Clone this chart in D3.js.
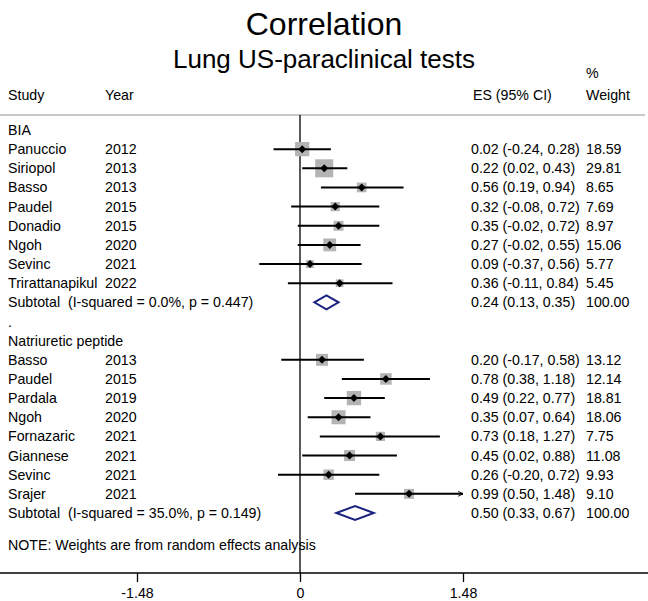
<!DOCTYPE html>
<html>
<head>
  <meta charset="utf-8">
  <title>Correlation - Lung US-paraclinical tests</title>
  <script src="https://d3js.org/d3.v7.min.js"></script>
  <style>
    body { margin: 0; background: #fff; }
    svg text { font-family: "Liberation Sans", Arial, Helvetica, sans-serif; fill: #000; }
  </style>
</head>
<body>
  <div id="chart"></div>
  <script>
// BIA group
const biaStudies = ["Panuccio", "Siriopol", "Basso", "Paudel", "Donadio", "Ngoh", "Sevinc", "Trirattanapikul"];
const biaYears = [2012, 2013, 2013, 2015, 2015, 2020, 2021, 2022];
const biaES = [0.02, 0.22, 0.56, 0.32, 0.35, 0.27, 0.09, 0.36];
const biaLo = [-0.24, 0.02, 0.19, -0.08, -0.02, -0.02, -0.37, -0.11];
const biaHi = [0.28, 0.43, 0.94, 0.72, 0.72, 0.55, 0.56, 0.84];
const biaWeight = [18.59, 29.81, 8.65, 7.69, 8.97, 15.06, 5.77, 5.45];
const biaSubtotal = { es: 0.24, lo: 0.13, hi: 0.35, het: "I-squared = 0.0%, p = 0.447" };

// Natriuretic peptide group
const npStudies = ["Basso", "Paudel", "Pardala", "Ngoh", "Fornazaric", "Giannese", "Sevinc", "Srajer"];
const npYears = [2013, 2015, 2019, 2020, 2021, 2021, 2021, 2021];
const npES = [0.20, 0.78, 0.49, 0.35, 0.73, 0.45, 0.26, 0.99];
const npLo = [-0.17, 0.38, 0.22, 0.07, 0.18, 0.02, -0.20, 0.50];
const npHi = [0.58, 1.18, 0.77, 0.64, 1.27, 0.88, 0.72, 1.48];
const npWeight = [13.12, 12.14, 18.81, 18.06, 7.75, 11.08, 9.93, 9.10];
const npSubtotal = { es: 0.50, lo: 0.33, hi: 0.67, het: "I-squared = 35.0%, p = 0.149" };

const xTicks = [-1.48, 0, 1.48];

const width = 648, height = 601;
const svg = d3.select("#chart").append("svg")
  .attr("width", width).attr("height", height);

const x = d3.scaleLinear().domain([-1.48, 1.48]).range([137, 463]);

// row layout
const rowTop = 130, rowStep = 19.15;
const rowY = i => rowTop + i * rowStep;       // vertical centre of a row
const fs = 14.2;
const fmt = v => d3.format(".2f")(v).replace("\u2212", "-");
const esCol = 471, wCol = 586;

function buildRows(names, years, es, lo, hi, w) {
  return names.map((n, i) => ({ name: n, year: years[i], es: es[i], lo: lo[i], hi: hi[i], w: w[i] }));
}
const bia = buildRows(biaStudies, biaYears, biaES, biaLo, biaHi, biaWeight);
const np = buildRows(npStudies, npYears, npES, npLo, npHi, npWeight);

// titles
svg.append("text").attr("x", 324).attr("y", 35).attr("text-anchor", "middle")
  .style("font-size", "32px").text("Correlation");
svg.append("text").attr("x", 324).attr("y", 68).attr("text-anchor", "middle")
  .style("font-size", "26px").text("Lung US-paraclinical tests");

// column headers
svg.append("text").attr("x", wCol).attr("y", 78).style("font-size", fs + "px").text("%");
svg.append("text").attr("x", 8).attr("y", 100).style("font-size", fs + "px").text("Study");
svg.append("text").attr("x", 105).attr("y", 100).style("font-size", fs + "px").text("Year");
svg.append("text").attr("x", 473).attr("y", 100).style("font-size", fs + "px").text("ES (95% CI)");
svg.append("text").attr("x", wCol).attr("y", 100).style("font-size", fs + "px").text("Weight");

svg.append("line").attr("x1", 0).attr("x2", 645).attr("y1", 115).attr("y2", 115)
  .attr("stroke", "#c8c8c8").attr("stroke-width", 2);

// axis
const axisY = 573;
svg.append("line").attr("x1", x(0)).attr("x2", x(0)).attr("y1", 115).attr("y2", axisY)
  .attr("stroke", "#000").attr("stroke-width", 1.3);

const axis = svg.append("g").attr("transform", `translate(0,${axisY})`)
  .call(d3.axisBottom(x).tickValues(xTicks).tickSize(9).tickPadding(6)
    .tickFormat(d => d === 0 ? "0" : fmt(d)));
axis.select(".domain").remove();
axis.selectAll(".tick line").attr("stroke", "#000").attr("stroke-width", 1.3);
axis.selectAll(".tick text").style("font-size", fs + "px")
  .style("font-family", "'Liberation Sans', Arial, sans-serif");
svg.append("line").attr("x1", 0).attr("x2", width).attr("y1", axisY).attr("y2", axisY)
  .attr("stroke", "#000").attr("stroke-width", 1.5);

const sizeK = 3.3;
const arrow = svg.append("defs").append("marker").attr("id", "arrow")
  .attr("viewBox", "0 0 10 10").attr("refX", 9).attr("refY", 5)
  .attr("markerWidth", 6).attr("markerHeight", 8).attr("orient", "auto")
  .attr("markerUnits", "userSpaceOnUse");
arrow.append("path").attr("d", "M1,1 L9,5 L1,9").attr("fill", "none")
  .attr("stroke", "#000").attr("stroke-width", 1.6);

function drawLabel(i, txt) {
  svg.append("text").attr("x", 8).attr("y", rowY(i) + 5).style("font-size", fs + "px").text(txt);
}

function drawStudies(rows, start) {
  rows.forEach((d, k) => {
    const i = start + k, cy = rowY(i);
    const nameT = svg.append("text").attr("x", 8).attr("y", cy + 5).style("font-size", fs + "px").text(d.name);
    const nameEnd = 8 + nameT.node().getComputedTextLength();
    svg.append("text").attr("x", Math.max(105, nameEnd + 4)).attr("y", cy + 5)
      .style("font-size", fs + "px").text(d.year);
    const s = sizeK * Math.sqrt(d.w);
    svg.append("rect").attr("x", x(d.es) - s / 2).attr("y", cy - s / 2)
      .attr("width", s).attr("height", s).attr("fill", "#b4b4b4");
    const clipped = d.hi >= x.domain()[1];
    svg.append("line").attr("x1", x(Math.max(d.lo, x.domain()[0])))
      .attr("x2", x(Math.min(d.hi, x.domain()[1]))).attr("y1", cy).attr("y2", cy)
      .attr("stroke", "#000").attr("stroke-width", 2)
      .attr("marker-end", clipped ? "url(#arrow)" : null);
    svg.append("path").attr("transform", `translate(${x(d.es)},${cy})`)
      .attr("d", "M0,-4 L4,0 L0,4 L-4,0 Z").attr("fill", "#000");
    svg.append("text").attr("x", esCol).attr("y", cy + 5).style("font-size", fs + "px")
      .text(`${fmt(d.es)} (${fmt(d.lo)}, ${fmt(d.hi)})`);
    svg.append("text").attr("x", wCol).attr("y", cy + 5).style("font-size", fs + "px")
      .text(fmt(d.w));
  });
}

function drawSubtotal(sub, i) {
  const cy = rowY(i);
  svg.append("text").attr("x", 8).attr("y", cy + 5).style("font-size", fs + "px")
    .attr("xml:space", "preserve").text(`Subtotal  (${sub.het})`);
  svg.append("path")
    .attr("d", `M${x(sub.lo)},${cy} L${x(sub.es)},${cy - 7} L${x(sub.hi)},${cy} L${x(sub.es)},${cy + 7} Z`)
    .attr("fill", "none").attr("stroke", "#1a237e").attr("stroke-width", 2);
  svg.append("text").attr("x", esCol).attr("y", cy + 5).style("font-size", fs + "px")
    .text(`${fmt(sub.es)} (${fmt(sub.lo)}, ${fmt(sub.hi)})`);
  svg.append("text").attr("x", wCol).attr("y", cy + 5).style("font-size", fs + "px").text("100.00");
}

drawLabel(0, "BIA");
drawStudies(bia, 1);
drawSubtotal(biaSubtotal, 9);
drawLabel(10, ".");
drawLabel(11, "Natriuretic peptide");
drawStudies(np, 12);
drawSubtotal(npSubtotal, 20);

svg.append("text").attr("x", 8).attr("y", 550).style("font-size", fs + "px")
  .text("NOTE: Weights are from random effects analysis");
  </script>
</body>
</html>
